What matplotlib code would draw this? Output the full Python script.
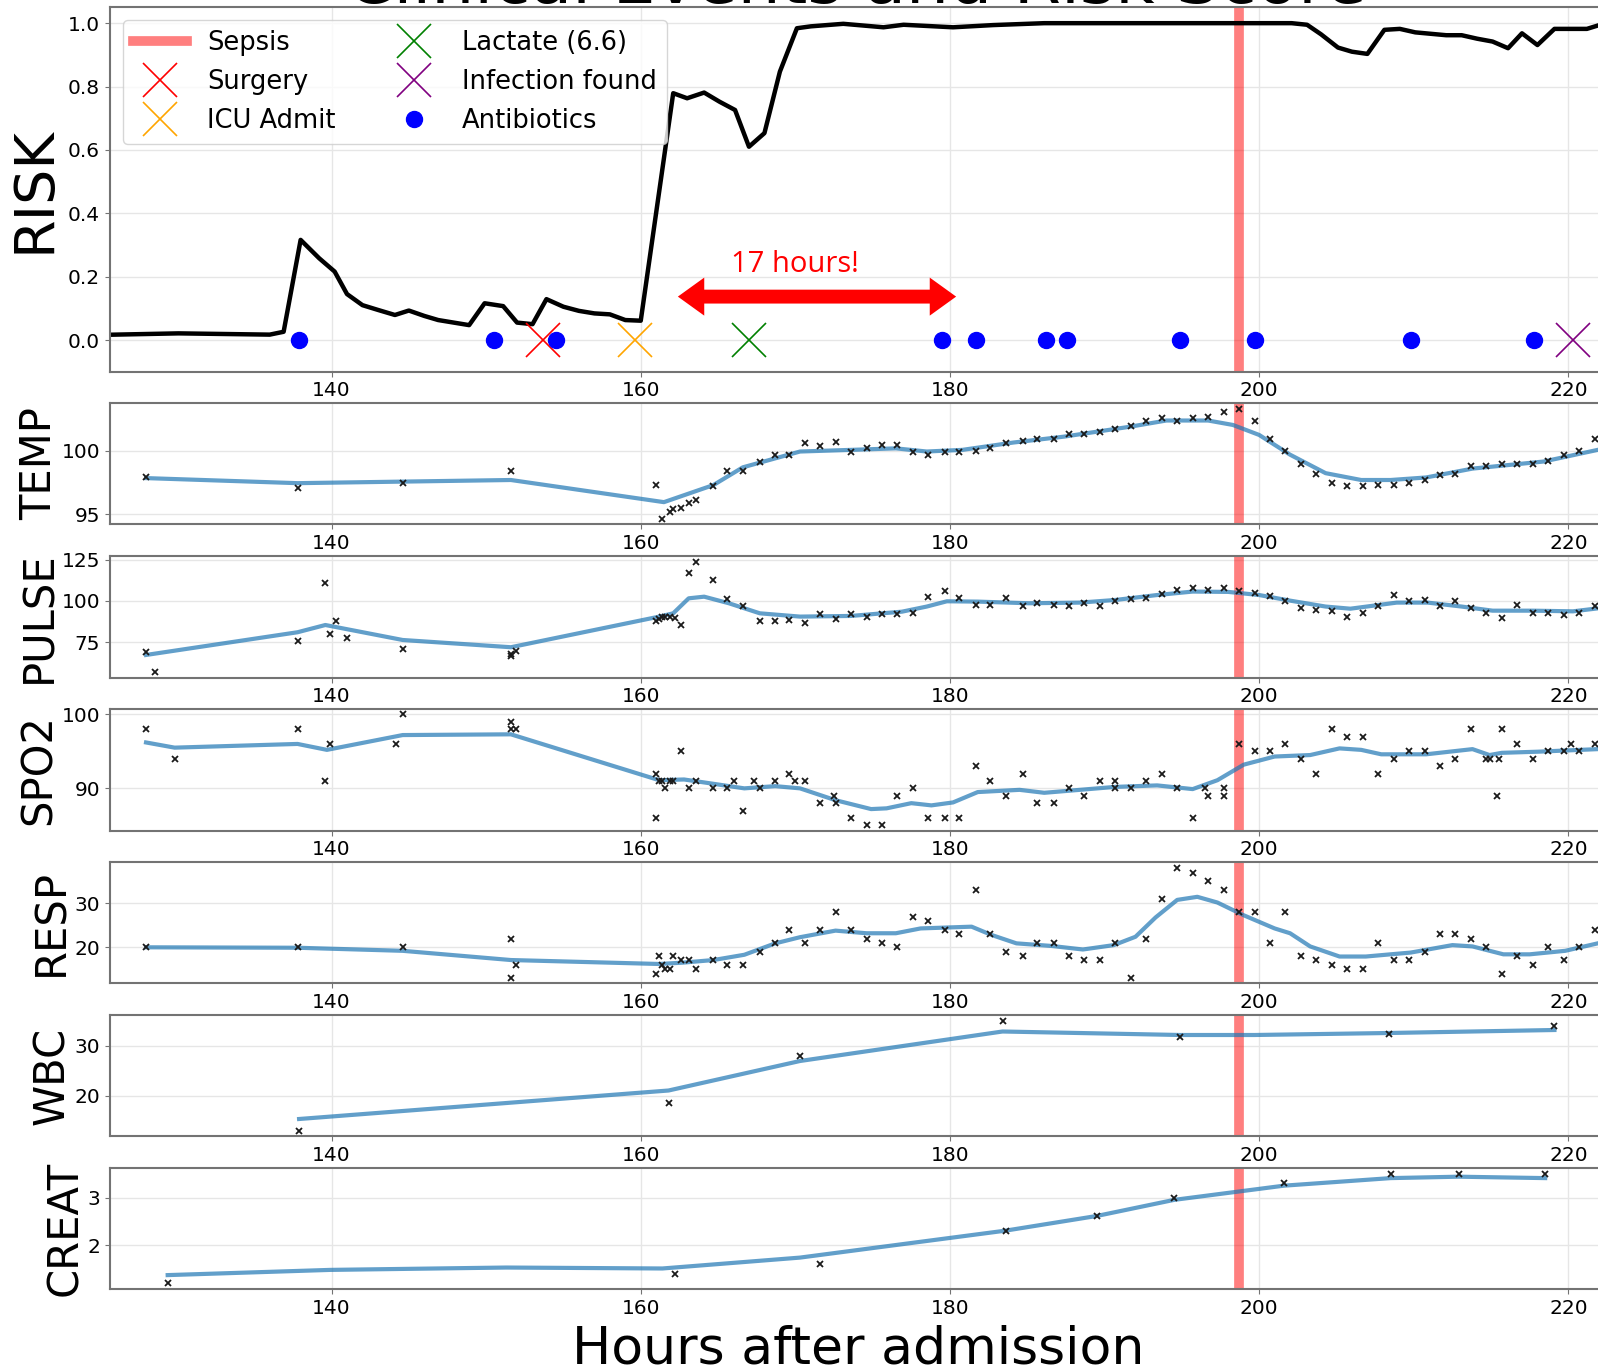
import numpy as np
import matplotlib
matplotlib.use('Agg')
import matplotlib.pyplot as plt

# ---------------- data ----------------
# risk score (hours after admission, risk)
risk_t = [125.0, 130.1, 136.0, 136.9, 138.0, 139.2, 140.2, 141.0, 142.0, 143.0, 144.1, 145.0,
          146.0, 146.9, 147.9, 148.9, 149.9, 151.1, 152.0, 153.0, 153.9, 155.0, 156.0, 157.0,
          158.0, 159.0, 160.0, 162.1, 163.0, 164.1, 165.1, 166.1, 167.0, 168.0, 169.0, 170.1,
          171.0, 173.1, 175.7, 177.0, 180.2, 182.8, 186.1, 202.1, 203.1, 204.0, 205.1, 206.0,
          207.0, 208.1, 209.1, 210.1, 212.1, 213.1, 214.1, 215.1, 216.1, 217.0, 218.0, 219.1,
          221.2, 222.4]
risk_v = [0.016, 0.021, 0.017, 0.026, 0.316, 0.258, 0.216, 0.145, 0.11, 0.095, 0.079, 0.093,
          0.076, 0.063, 0.055, 0.047, 0.116, 0.107, 0.055, 0.05, 0.129, 0.105, 0.092, 0.084,
          0.081, 0.063, 0.061, 0.779, 0.763, 0.781, 0.752, 0.726, 0.61, 0.653, 0.847, 0.984,
          0.99, 0.998, 0.987, 0.995, 0.987, 0.994, 1.0, 1.0, 0.995, 0.965, 0.923, 0.91,
          0.903, 0.979, 0.982, 0.971, 0.962, 0.962, 0.951, 0.942, 0.921, 0.968, 0.931, 0.982,
          0.982, 1.0]

sepsis_onset = 198.7
surgery = [153.7]
icu_admit = [159.6]
lactate = [167.0]
infection = [220.3]
antibiotics = [137.9, 150.5, 154.5, 179.5, 181.7, 186.2, 187.6, 194.9, 199.7, 209.8, 217.8]

arrow_start, arrow_end, arrow_y = 162.4, 180.4, 0.137
note_x, note_y = 170.0, 0.215

# hourly measurement times for the later part of the stay
hourly = [170.6, 171.6, 172.6, 173.6, 174.65, 175.6, 176.6, 177.6, 178.6, 179.65,
          180.6, 181.7, 182.6, 183.6, 184.7, 185.6, 186.7, 187.7, 188.7, 189.7,
          190.7, 191.7, 192.7, 193.7, 194.7, 195.7, 196.7, 197.7, 198.7, 199.7,
          200.7, 201.7, 202.7, 203.7, 204.7, 205.7, 206.7, 207.7, 208.7, 209.7,
          210.7, 211.7, 212.7, 213.7, 214.7, 215.7, 216.7, 217.7, 218.7, 219.7,
          220.7, 221.7]

temp_t = [128.0, 137.8, 144.6, 151.6, 161.0, 161.4, 161.9, 162.1, 162.6, 163.1, 163.6,
          164.7, 165.6, 166.6, 167.7, 168.7, 169.6] + hourly
temp_v = [97.9, 97.1, 97.5, 98.4, 97.3, 94.6, 95.2, 95.4, 95.5, 95.9, 96.1,
          97.2, 98.4, 98.4, 99.1, 99.7, 99.7,
          100.6, 100.4, 100.7, 99.9, 100.2, 100.5, 100.5, 99.9, 99.7, 99.9,
          99.9, 100.0, 100.2, 100.6, 100.8, 100.9, 100.9, 101.3, 101.3, 101.5,
          101.7, 102.0, 102.4, 102.6, 102.4, 102.6, 102.7, 103.1, 103.3, 102.4,
          100.9, 100.0, 99.0, 98.2, 97.5, 97.2, 97.2, 97.3, 97.3, 97.5,
          97.7, 98.1, 98.2, 98.8, 98.8, 99.0, 99.0, 99.0, 99.2, 99.7,
          100.0, 100.9]
temp_fit_t = [128.0, 137.8, 151.6, 161.5, 164.7, 166.6, 170.3, 173.6, 176.5, 178.5, 180.8,
              184.1, 187.4, 191.7, 194.0, 196.7, 198.3, 200.0, 202.0, 204.3, 206.6, 208.5,
              210.8, 213.8, 218.4, 221.9]
temp_fit_v = [97.85, 97.45, 97.7, 95.95, 97.3, 98.7, 99.95, 100.08, 100.2, 99.95, 100.08,
              100.66, 101.13, 101.92, 102.4, 102.4, 102.05, 101.26, 99.7, 98.24, 97.7, 97.7,
              97.9, 98.6, 99.16, 100.08]

pulse_t = [128.0, 128.6, 137.8, 139.6, 139.9, 140.3, 141.0, 144.6, 151.6, 151.6, 151.9,
           161.0, 161.2, 161.4, 161.6, 161.9, 162.2, 162.6, 163.1, 163.6, 164.7, 165.6,
           166.6, 167.7, 168.7, 169.6] + hourly
pulse_v = [68.8, 56.7, 75.7, 110.9, 79.8, 87.9, 77.7, 70.6, 67.8, 66.6, 69.8,
           87.7, 89.3, 90.1, 90.1, 90.1, 89.7, 85.6, 116.8, 123.7, 112.8, 101.0,
           96.8, 87.7, 87.7, 88.7,
           86.4, 91.9, 88.9, 91.9, 90.5, 91.9, 91.9, 92.9, 102.6, 105.9,
           101.8, 97.6, 97.6, 101.8, 96.8, 99.0, 97.6, 96.8, 99.0, 96.8,
           100.0, 101.0, 101.8, 104.0, 106.7, 107.7, 106.7, 107.7, 105.9, 105.1,
           103.0, 100.0, 95.5, 94.5, 93.7, 90.5, 92.9, 96.8, 103.6, 100.0,
           100.6, 96.8, 100.0, 95.5, 92.9, 89.7, 97.6, 92.9, 92.9, 91.7,
           92.9, 96.8]
pulse_fit_t = [128.0, 137.8, 139.6, 144.6, 151.6, 161.2, 162.1, 163.1, 164.1, 165.7, 167.7,
               170.3, 173.6, 176.9, 178.5, 179.8, 181.8, 185.1, 188.4, 190.7, 193.4, 195.7,
               198.0, 200.0, 202.0, 204.3, 205.9, 208.9, 210.9, 213.1, 215.1, 217.7, 220.3,
               221.9]
pulse_fit_v = [67.2, 81.0, 85.4, 76.3, 71.9, 90.5, 92.5, 101.6, 102.6, 98.6, 92.5,
               90.5, 90.9, 93.5, 96.6, 99.8, 99.6, 98.6, 99.0, 100.6, 103.6, 105.7,
               105.5, 103.6, 100.2, 96.6, 95.3, 99.0, 99.0, 96.6, 94.1, 94.1, 93.7,
               95.5]

spo2_t = [128.0, 129.85, 137.8, 139.6, 139.9, 144.2, 144.6, 151.6, 151.6, 151.9, 161.0,
          161.0, 161.2, 161.4, 161.6, 161.9, 162.1, 162.6, 163.1, 163.6, 164.7, 165.6,
          166.0, 166.6, 167.3, 167.7, 168.7, 169.6, 170.0,
          170.6, 171.6, 172.5, 172.6, 173.6, 174.65, 175.6, 176.6, 177.6, 178.6,
          179.65, 180.6, 181.7, 182.6, 183.6, 184.7, 185.6, 186.7, 187.7, 188.7,
          189.7, 190.7, 190.7, 191.7, 192.7, 193.7, 194.7, 195.7, 196.5, 196.7,
          197.7, 197.7, 198.7, 199.7, 200.7, 201.7, 202.7, 203.7, 204.7, 205.7,
          206.7, 207.7, 208.7, 209.7, 210.7, 211.7, 212.7, 213.7, 214.7, 214.9,
          215.4, 215.5, 215.7, 216.7, 217.7, 218.7, 219.7, 220.2, 220.7, 221.7]
spo2_v = [98, 94, 98, 91, 96, 96, 100, 99, 98, 98, 92,
          86, 91, 91, 90, 91, 91, 95, 90, 91, 90, 90,
          91, 87, 91, 90, 91, 92, 91,
          91, 88, 89, 88, 86, 85, 85, 89, 90, 86,
          86, 86, 93, 91, 89, 92, 88, 88, 90, 89,
          91, 91, 90, 90, 91, 92, 90, 86, 90, 89,
          90, 89, 96, 95, 95, 96, 94, 92, 98, 97,
          97, 92, 94, 95, 95, 93, 94, 98, 94, 94,
          89, 94, 98, 96, 94, 95, 95, 96, 95, 96]
spo2_fit_t = [128.0, 129.85, 137.8, 139.7, 144.6, 151.6, 161.2, 162.8, 166.7, 168.7, 170.3,
              172.6, 174.9, 175.9, 177.5, 178.8, 180.2, 181.8, 184.5, 186.1, 188.4, 190.7,
              193.4, 195.7, 197.3, 199.0, 201.0, 203.3, 205.2, 206.6, 207.9, 210.8, 213.8,
              214.9, 215.7, 218.0, 221.9]
spo2_fit_v = [96.2, 95.5, 96.0, 95.2, 97.2, 97.3, 91.1, 91.2, 90.0, 90.3, 90.0,
              88.4, 87.2, 87.3, 88.0, 87.7, 88.1, 89.5, 89.8, 89.4, 89.8, 90.2,
              90.4, 89.9, 91.1, 93.2, 94.3, 94.5, 95.4, 95.2, 94.6, 94.6, 95.3,
              94.5, 94.8, 94.95, 95.3]

resp_t = [128.0, 137.8, 144.6, 151.6, 151.6, 151.9, 161.0, 161.2, 161.4, 161.6, 161.9,
          162.1, 162.6, 163.1, 163.6, 164.7, 165.6, 166.6, 167.7, 168.7, 169.6] + hourly
resp_v = [20, 20, 20, 22, 13, 16, 14, 18, 16, 15, 15,
          18, 17, 17, 15, 17, 16, 16, 19, 21, 24,
          21, 24, 28, 24, 22, 21, 20, 27, 26, 24,
          23, 33, 23, 19, 18, 21, 21, 18, 17, 17,
          21, 13, 22, 31, 38, 37, 35, 33, 28, 28,
          21, 28, 18, 17, 16, 15, 15, 21, 17, 17,
          19, 23, 23, 22, 20, 14, 18, 16, 20, 17,
          20, 24]
resp_fit_t = [128.0, 137.8, 144.6, 151.6, 161.2, 162.7, 164.7, 166.7, 168.7, 170.3, 172.6,
              174.6, 176.5, 178.1, 181.4, 182.7, 184.3, 186.6, 188.6, 190.6, 192.0, 193.3,
              194.7, 196.0, 197.3, 199.0, 201.0, 202.0, 203.3, 205.2, 206.9, 208.5, 209.8,
              212.5, 213.8, 215.8, 217.5, 219.8, 221.9]
resp_fit_v = [20.0, 19.9, 19.2, 17.1, 16.2, 16.5, 17.1, 18.3, 20.9, 22.3, 23.8,
              23.2, 23.2, 24.3, 24.7, 22.8, 20.9, 20.3, 19.5, 20.5, 22.4, 26.8,
              30.8, 31.5, 30.2, 27.3, 24.3, 23.2, 20.2, 17.9, 17.9, 18.4, 18.8,
              20.5, 20.2, 18.4, 18.4, 19.2, 20.9]

wbc_t = [137.9, 161.8, 170.3, 183.4, 194.9, 208.4, 219.1]
wbc_v = [12.9, 18.6, 28.0, 35.0, 31.7, 32.3, 34.0]
wbc_fit_t = [137.9, 161.8, 170.3, 183.4, 194.9, 199.7, 208.4, 219.1]
wbc_fit_v = [15.3, 21.0, 26.9, 32.8, 32.1, 32.1, 32.5, 33.1]

creat_t = [129.4, 162.2, 171.6, 183.6, 189.5, 194.5, 201.6, 208.5, 212.9, 218.5]
creat_v = [1.2, 1.39, 1.6, 2.31, 2.61, 3.01, 3.31, 3.51, 3.51, 3.51]
creat_fit_t = [129.4, 139.9, 151.3, 161.4, 170.3, 183.6, 189.5, 194.5, 201.6, 208.5, 212.9, 218.5]
creat_fit_v = [1.37, 1.48, 1.53, 1.51, 1.74, 2.31, 2.62, 2.96, 3.26, 3.42, 3.45, 3.42]

panels = [
    ('TEMP', temp_t, temp_v, temp_fit_t, temp_fit_v, (94.2, 103.76), [95, 100]),
    ('PULSE', pulse_t, pulse_v, pulse_fit_t, pulse_fit_v, (53.4, 127.3), [75, 100, 125]),
    ('SPO2', spo2_t, spo2_v, spo2_fit_t, spo2_fit_v, (84.28, 100.68), [90, 100]),
    ('RESP', resp_t, resp_v, resp_fit_t, resp_fit_v, (11.8, 39.5), [20, 30]),
    ('WBC', wbc_t, wbc_v, wbc_fit_t, wbc_fit_v, (11.9, 36.1), [20, 30]),
    ('CREAT', creat_t, creat_v, creat_fit_t, creat_fit_v, (1.07, 3.64), [2, 3]),
]

# ---------------- layout ----------------
W, H = 1598.0, 1371.0
fig = plt.figure(figsize=(W / 100, H / 100), dpi=100)

xlim = (125.65, 222.2)
left_px = 109.7
px_per_hr = 15.46
ax_w = (xlim[1] - xlim[0]) * px_per_hr / W
tops = [6.7, 403.3, 556.0, 709.3, 861.7, 1015.0, 1167.7]
bottoms = [371.7, 524.3, 677.7, 830.7, 983.3, 1136.0, 1289.3]

spine_col = '0.45'
sepsis_col = 'red'


def style_axes(ax):
    ax.set_xlim(*xlim)
    ax.set_xticks([140, 160, 180, 200, 220])
    ax.grid(True, color='#e6e6e6', lw=1)
    ax.set_axisbelow(True)
    ax.tick_params(labelsize=14.5, color=spine_col)
    for s in ax.spines.values():
        s.set_color(spine_col)
        s.set_linewidth(1.5)


axes = [fig.add_axes([left_px / W, 1 - b / H, ax_w, (b - t) / H]) for t, b in zip(tops, bottoms)]

# ---- risk panel ----
ax = axes[0]
style_axes(ax)
ax.set_ylim(-0.1, 1.052)
ax.set_yticks([0.0, 0.2, 0.4, 0.6, 0.8, 1.0])
ax.set_yticklabels(['0.0', '0.2', '0.4', '0.6', '0.8', '1.0'])
sep = ax.axvline(sepsis_onset, color=sepsis_col, alpha=0.5, lw=7, zorder=1.5, label='Sepsis')
ax.plot(risk_t, risk_v, color='black', lw=3.2, zorder=2)
h_surg, = ax.plot(surgery, [0] * len(surgery), 'x', color='red', ms=24, mew=1.2, label='Surgery')
h_icu, = ax.plot(icu_admit, [0] * len(icu_admit), 'x', color='orange', ms=24, mew=1.2, label='ICU Admit')
h_lac, = ax.plot(lactate, [0] * len(lactate), 'x', color='green', ms=24, mew=1.2, label='Lactate (6.6)')
h_inf, = ax.plot(infection, [0] * len(infection), 'x', color='purple', ms=24, mew=1.2, label='Infection found')
h_abx, = ax.plot(antibiotics, [0] * len(antibiotics), 'o', color='blue', ms=11.5, ls='none', label='Antibiotics')

mid = (arrow_start + arrow_end) / 2
for end in (arrow_start, arrow_end):
    ax.annotate('', xy=(end, arrow_y), xytext=(mid, arrow_y),
                arrowprops=dict(arrowstyle='simple,head_length=0.95,head_width=1.37,tail_width=0.5',
                                color='red', lw=0, mutation_scale=20, shrinkA=0, shrinkB=0))
ax.text(note_x, note_y, '17 hours!', color='red', fontsize=21, ha='center', va='baseline',
        family=['Open Sans', 'DejaVu Sans'])

ax.legend(handles=[sep, h_surg, h_icu, h_lac, h_inf, h_abx], loc='upper left', ncol=2,
          fontsize=18.5, numpoints=1, handlelength=2.1, handletextpad=0.8, columnspacing=2.0,
          labelspacing=0.5, borderpad=0.4, edgecolor='0.8')
ax.set_ylabel('RISK', fontsize=40, labelpad=4.5)

# ---- vital sign panels ----
for ax, (name, t, v, ft, fv, ylim, yt) in zip(axes[1:], panels):
    style_axes(ax)
    ax.axvline(sepsis_onset, color=sepsis_col, alpha=0.5, lw=7, zorder=1.5)
    ax.plot(ft, fv, color='#1f77b4', alpha=0.7, lw=3, zorder=2)
    ax.plot(t, v, 'x', color='0.1', ms=5, mew=1.3, zorder=3)
    ax.set_ylim(*ylim)
    ax.set_yticks(yt)
    ax.set_ylabel(name, fontsize=30, labelpad=1)

cx = (left_px + ax_w * W / 2) / W
fig.text(cx, 1 - 3.5 / H, 'Clinical Events and Risk Score', fontsize=49, ha='center', va='baseline')
fig.text(0.537, 1 - 1363 / H, 'Hours after admission', fontsize=37.5, ha='center', va='baseline')

fig.savefig('out.png', dpi=100)
